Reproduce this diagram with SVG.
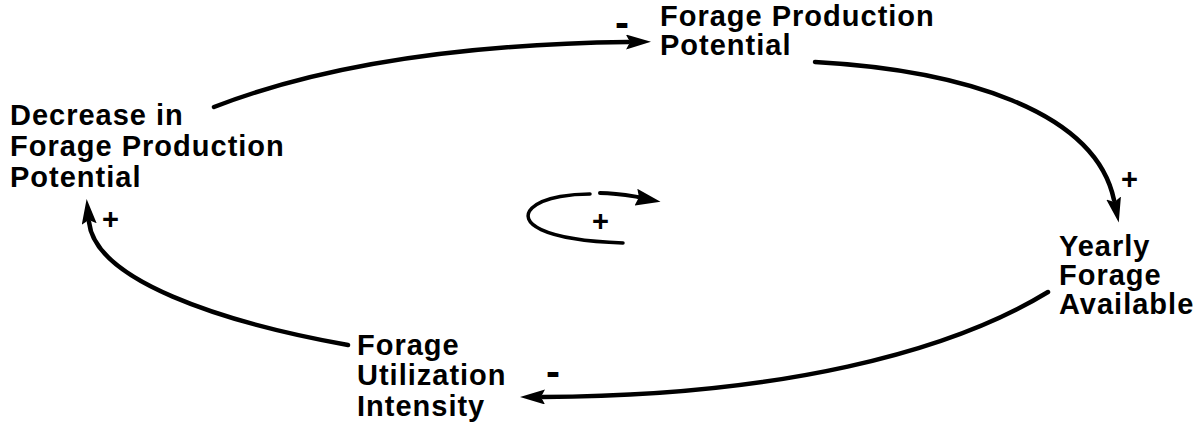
<svg xmlns="http://www.w3.org/2000/svg" width="1202" height="435" viewBox="0 0 1202 435">
<style>
text{font-family:"Liberation Sans",Arial,sans-serif;font-weight:bold;font-size:29px;letter-spacing:1px;fill:#000}
.c{fill:none;stroke:#000;stroke-width:4.5;stroke-linecap:round}
.s{font-size:42px;letter-spacing:0}
</style>
<defs>
<marker id="ah" viewBox="0 0 25 15" refX="2" refY="7.5" markerWidth="25" markerHeight="15" markerUnits="userSpaceOnUse" orient="auto">
<path d="M0,0 L25,7.5 L0,15 L4,7.5 z" fill="#000"/>
</marker>
<marker id="ahs" viewBox="0 0 25 17" refX="2" refY="8" markerWidth="25" markerHeight="17" markerUnits="userSpaceOnUse" orient="auto">
<path d="M0,0 L25,9 L0,17 L3,8 z" fill="#000"/>
</marker>
</defs>
<g id="connectors">
<path class="c" d="M214,107 C330,62 470,44 628,42" marker-end="url(#ah)"/>
<path class="c" d="M815,62 C960,70 1095,110 1114,200" marker-end="url(#ah)"/>
<path class="c" d="M1048,292 C950,352 780,396 543,397" marker-end="url(#ah)"/>
<path class="c" d="M348,345 C220,322 95,280 89,222" marker-end="url(#ah)"/>
<path class="c" style="stroke-width:3.5" d="M623,243 C540,240 518,222 532,208 C545,196 575,194 590,194"/>
<path class="c" style="stroke-width:4" d="M600,193 C615,193 626,195 638,197" marker-end="url(#ahs)"/>
</g>
<g id="signs">
<text x="615" y="37" class="s">-</text>
<text x="1121" y="189">+</text>
<text x="102" y="229">+</text>
<text x="592" y="231">+</text>
<text x="546" y="386" class="s">-</text>
</g>
<g id="node-decrease">
<text x="10" y="125">Decrease in</text>
<text x="10" y="156">Forage Production</text>
<text x="10" y="187">Potential</text>
</g>
<g id="node-potential">
<text x="660" y="26">Forage Production</text>
<text x="660" y="55">Potential</text>
</g>
<g id="node-yearly">
<text x="1059" y="256">Yearly</text>
<text x="1059" y="285">Forage</text>
<text x="1059" y="314">Available</text>
</g>
<g id="node-utilization">
<text x="357" y="355">Forage</text>
<text x="357" y="385">Utilization</text>
<text x="357" y="416">Intensity</text>
</g>
</svg>
